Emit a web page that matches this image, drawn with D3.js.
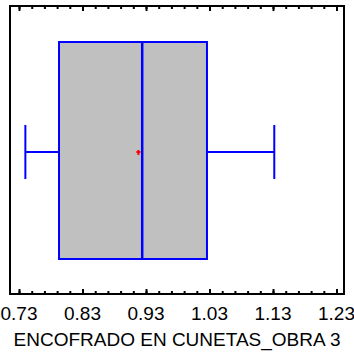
<!DOCTYPE html>
<html>
<head>
<meta charset="utf-8">
<script src="https://cdn.jsdelivr.net/npm/d3@7"></script>
<style>
  body { margin: 0; background: #fff; }
  svg { display: block; }
</style>
</head>
<body>
<div class="board"></div>
<script>
(function() {

  var title = 'ENCOFRADO EN CUNETAS_OBRA 3';
  var tickValues = [0.73, 0.83, 0.93, 1.03, 1.13, 1.23];
  var minorValues = d3.range(0.73, 1.2401, 0.02);
  // whisker low, q1, median, q3, whisker high
  var stats = [0.74, 0.793, 0.924, 1.026, 1.132];
  var meanValue = [0.918];

  var options = { width: 354, height: 354 };
  var frame = { left: 10, right: 344, top: 6, bottom: 294 };

  var svg = d3.select('.board')
    .append('svg')
    .attr('width', options.width)
    .attr('height', options.height);

  var x = d3.scaleLinear()
    .domain([0.7158, 1.2418])
    .range([frame.left, frame.right]);

  var cy = 152;
  var boxTop = 42, boxBottom = 259;
  var capTop = 125, capBottom = 179;

  // whiskers
  svg.append('line')
    .attr('x1', x(stats[0])).attr('x2', x(stats[1]))
    .attr('y1', cy).attr('y2', cy)
    .style('stroke', '#0000ff').style('stroke-width', 2);
  svg.append('line')
    .attr('x1', x(stats[3])).attr('x2', x(stats[4]))
    .attr('y1', cy).attr('y2', cy)
    .style('stroke', '#0000ff').style('stroke-width', 2);
  svg.selectAll('line.cap')
    .data([stats[0], stats[4]])
    .enter()
    .append('line')
    .attr('class', 'cap')
    .attr('x1', function(d) { return x(d); })
    .attr('x2', function(d) { return x(d); })
    .attr('y1', capTop).attr('y2', capBottom)
    .style('stroke', '#0000ff').style('stroke-width', 2);

  // box
  svg.append('rect')
    .attr('x', x(stats[1]))
    .attr('y', boxTop)
    .attr('width', x(stats[3]) - x(stats[1]))
    .attr('height', boxBottom - boxTop)
    .style('fill', '#c0c0c0')
    .style('stroke', '#0000ff')
    .style('stroke-width', 2);

  svg.append('line')
    .attr('x1', x(stats[2])).attr('x2', x(stats[2]))
    .attr('y1', boxTop).attr('y2', boxBottom)
    .style('stroke', '#0000ff').style('stroke-width', 2.5);

  // mean marker
  svg.selectAll('path.mean')
    .data(meanValue)
    .enter()
    .append('path')
    .attr('class', 'mean')
    .attr('d', function(d) {
      var px = x(d), py = cy;
      return 'M' + (px - 2) + ',' + py + 'H' + (px + 2) + 'M' + px + ',' + (py - 2) + 'V' + (py + 3);
    })
    .style('stroke', '#ff0000')
    .style('stroke-width', 2)
    .style('fill', 'none');

  // frame
  svg.append('rect')
    .attr('x', frame.left)
    .attr('y', frame.top)
    .attr('width', frame.right - frame.left)
    .attr('height', frame.bottom - frame.top)
    .style('fill', 'none')
    .style('stroke', '#000')
    .style('stroke-width', 2);

  // inward ticks, bottom and top
  var bottomAxis = d3.axisTop(x).tickValues(minorValues).tickSize(3).tickFormat('');
  var bottomMajor = d3.axisTop(x).tickValues(tickValues).tickSize(5).tickFormat('');
  var topAxis = d3.axisBottom(x).tickValues(minorValues).tickSize(3).tickFormat('');
  var topMajor = d3.axisBottom(x).tickValues(tickValues).tickSize(5).tickFormat('');

  [[bottomAxis, frame.bottom], [bottomMajor, frame.bottom], [topAxis, frame.top], [topMajor, frame.top]]
    .forEach(function(a) {
      var g = svg.append('g')
        .attr('transform', 'translate(0,' + a[1] + ')')
        .call(a[0]);
      g.select('.domain').remove();
      g.selectAll('line').style('stroke', '#000').style('stroke-width', 2);
    });

  // tick labels
  svg.selectAll('text.tick-label')
    .data(tickValues)
    .enter()
    .append('text')
    .attr('class', 'tick-label')
    .attr('x', function(d) { return x(d); })
    .attr('y', 320)
    .text(function(d) { return d.toFixed(2); })
    .style('font-family', 'Liberation Sans, Arial, sans-serif')
    .style('font-size', '19px')
    .style('fill', '#000')
    .style('text-anchor', 'middle');

  svg.append('text')
    .attr('x', 177)
    .attr('y', 346)
    .text(title)
    .style('font-family', 'Liberation Sans, Arial, sans-serif')
    .style('font-size', '19px')
    .style('fill', '#000')
    .style('text-anchor', 'middle');

})();
</script>
</body>
</html>
